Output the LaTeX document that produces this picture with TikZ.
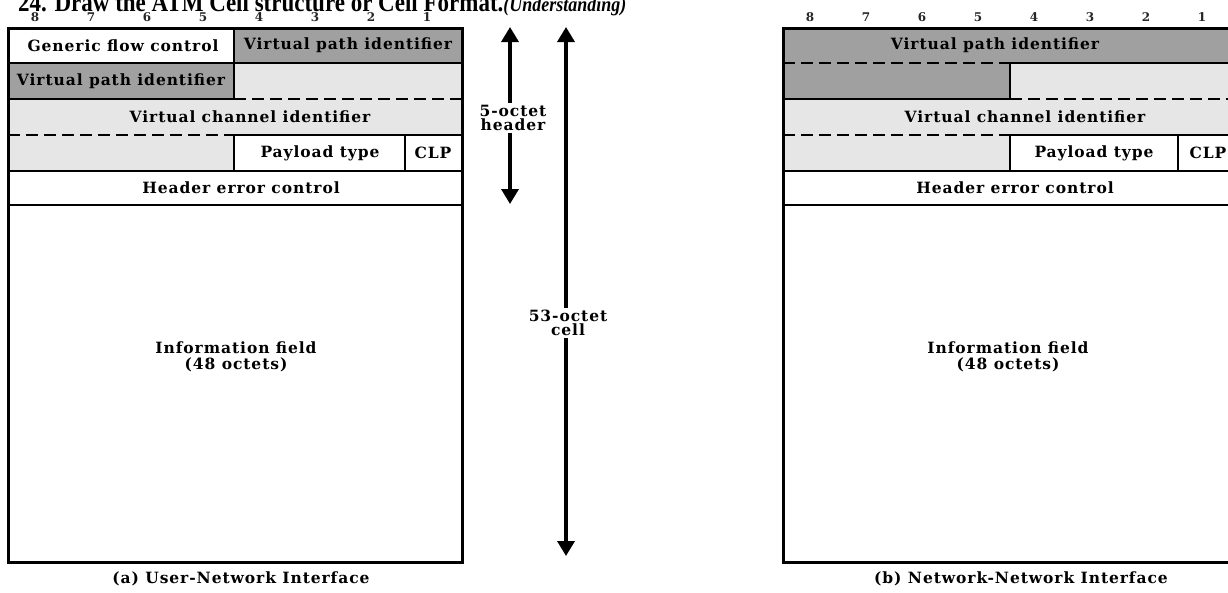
\documentclass[tikz,border=0pt]{standalone}
\usepackage{fontspec}
\setmainfont{Liberation Serif}
\newfontfamily\df{DejaVu Serif}[LetterSpace=6]
\newfontfamily\dfd{DejaVu Serif}
\usetikzlibrary{arrows.meta}
\definecolor{dg}{HTML}{A0A0A0}
\definecolor{lg}{HTML}{E6E6E6}
\begin{document}
\begin{tikzpicture}[x=1pt,y=-1pt,
  lbl/.style={font=\df\bfseries\fontsize{15.5}{16}\selectfont, inner sep=0pt, align=center},
  bit/.style={font=\dfd\bfseries\fontsize{12}{13}\selectfont, inner sep=0pt, text=black!85},
  outerbox/.style={line width=3pt},
  innerline/.style={line width=2.2pt},
  dsh/.style={line width=2.2pt, dash pattern=on 12pt off 6pt},
  arr/.style={line width=3.5pt, {Triangle[width=17pt,length=15pt]}-{Triangle[width=17pt,length=15pt]}},
  gaplbl/.style={lbl, fill=white, inner sep=1.5pt, font=\df\bfseries\fontsize{15.5}{14.5}\selectfont},
]
\useasboundingbox (0,0) rectangle (1228,592);
\fill[white] (0,0) rectangle (1228,592);

% title
\node[anchor=base west, inner sep=0pt, font=\bfseries\fontsize{23}{26}\selectfont] (title) at (18,11.5)
  {\scalebox{1}[1.15]{24. Draw the ATM Cell structure or Cell Format.{\itshape\fontsize{18}{20}\selectfont(Understanding)}}};

% ---------- left: UNI ----------
\fill[dg] (234,28) rectangle (462,63);
\fill[dg] (8,63) rectangle (234,99);
\fill[lg] (234,63) rectangle (462,99);
\fill[lg] (8,99) rectangle (462,135);
\fill[lg] (8,135) rectangle (234,171);
\draw[innerline] (8,63) -- (462,63);
\draw[innerline] (8,99) -- (234,99);
\draw[dsh] (234,99) -- (462,99);
\draw[dsh] (8,135) -- (234,135);
\draw[innerline] (234,135) -- (462,135);
\draw[innerline] (8,171) -- (462,171);
\draw[innerline] (8,205) -- (462,205);
\draw[innerline] (234,28) -- (234,99);
\draw[innerline] (234,135) -- (234,171);
\draw[innerline] (405,135) -- (405,171);
\draw[outerbox] (8,28) rectangle (462,562);

\node[lbl] (lgfc) at (123,45.5) {Generic flow control};
\node[lbl] (lvpi1) at (348,45.5) {Virtual path identifier};
\node[lbl] (lvpi2) at (121,81) {Virtual path identifier};
\node[lbl] (lvci) at (250,117) {Virtual channel identifier};
\node[lbl] (lpt) at (320,153) {Payload type};
\node[lbl] (lclp) at (433,153) {CLP};
\node[lbl] (lhec) at (241,188) {Header error control};
\node[lbl] (linfo) at (236,357) {Information field\\(48 octets)};
\node[lbl] (lcap) at (241,579) {(a) User-Network Interface};

\foreach \b [count=\i from 0] in {8,7,6,5,4,3,2,1}
  \node[bit] (lb\b) at (35+56*\i,17.5) {\b};

% ---------- arrows ----------
\coordinate (h5top) at (510,27);
\coordinate (h5bot) at (510,204);
\draw[arr] (h5top) -- (h5bot);
\node[gaplbl] (h5lbl) at (513,118) {5-octet\\header};

\coordinate (c53top) at (566,27);
\coordinate (c53bot) at (566,556);
\draw[arr] (c53top) -- (c53bot);
\node[gaplbl] (c53lbl) at (568,323) {53-octet\\cell};

% ---------- right: NNI ----------
\fill[dg] (783,28) rectangle (1240,63);
\fill[dg] (783,63) rectangle (1010,99);
\fill[lg] (1010,63) rectangle (1240,99);
\fill[lg] (783,99) rectangle (1240,135);
\fill[lg] (783,135) rectangle (1010,171);
\draw[dsh] (783,63) -- (1010,63);
\draw[innerline] (1010,63) -- (1240,63);
\draw[innerline] (783,99) -- (1010,99);
\draw[dsh] (1010,99) -- (1240,99);
\draw[dsh] (783,135) -- (1010,135);
\draw[innerline] (1010,135) -- (1240,135);
\draw[innerline] (783,171) -- (1240,171);
\draw[innerline] (783,205) -- (1240,205);
\draw[innerline] (1010,63) -- (1010,99);
\draw[innerline] (1010,135) -- (1010,171);
\draw[innerline] (1178,135) -- (1178,171);
\draw[outerbox] (783,28) rectangle (1237,562);

\node[lbl] (rvpi) at (995,45.5) {Virtual path identifier};
\node[lbl] (rvci) at (1025,117) {Virtual channel identifier};
\node[lbl] (rpt) at (1094,153) {Payload type};
\node[lbl] (rclp) at (1208,153) {CLP};
\node[lbl] (rhec) at (1015,188) {Header error control};
\node[lbl] (rinfo) at (1008,357) {Information field\\(48 octets)};
\node[lbl] (rcap) at (1021,579) {(b) Network-Network Interface};

\foreach \b [count=\i from 0] in {8,7,6,5,4,3,2,1}
  \node[bit] (rb\b) at (810+56*\i,17.5) {\b};
\end{tikzpicture}
\end{document}
